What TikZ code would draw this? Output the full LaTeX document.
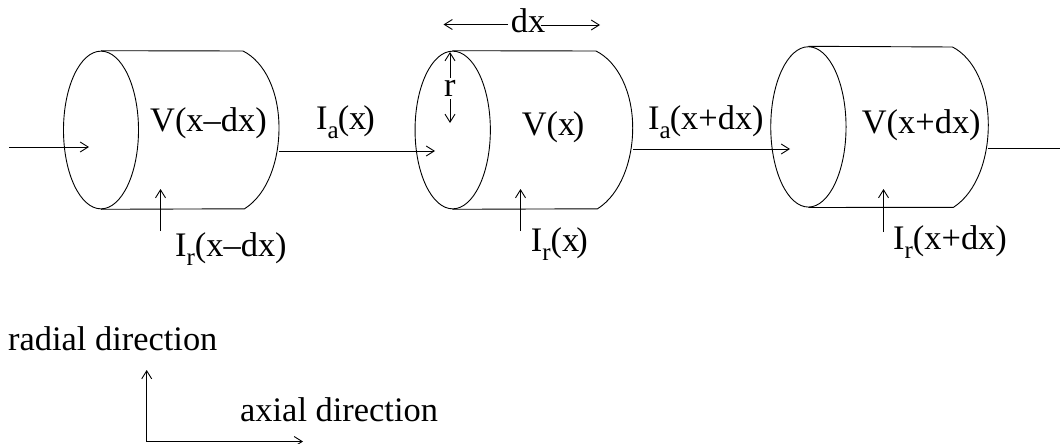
\documentclass[tikz,border=0pt]{standalone}
\usepackage{fontspec}
\setmainfont{Liberation Serif}
\usetikzlibrary{arrows.meta,shapes.geometric}
\newcommand{\subsc}[1]{\raisebox{-9pt}{\fontsize{25}{25}\selectfont #1}}
\tikzset{
  wire/.style={line width=0.9pt,black},
  arr/.style={wire,-{Straight Barb[length=8pt,width=10pt,line width=0.9pt]}},
  face/.style={ellipse,draw,line width=0.9pt,inner sep=0pt,minimum width=#1},
  lab/.style={anchor=base west,inner sep=0pt,font=\fontsize{34.4}{40}\selectfont},
}
\begin{document}
\begin{tikzpicture}[x=1pt,y=-1pt]
\useasboundingbox (0,0) rectangle (1060,444);
% faces
\node[face=75pt,minimum height=157.7pt] (f1) at (101,130) {};
\node[face=75.3pt,minimum height=157.7pt] (f2) at (452.7,130) {};
\node[face=75.3pt,minimum height=160.3pt] (f3) at (808.4,126.9) {};
% cylinder 1
\coordinate (t1) at (243,51);
\coordinate (m1) at (279,128);
\coordinate (b1) at (244.5,208.8);
\draw[wire] (f1.north) -- (t1) .. controls (265,62) and (279,92) .. (m1) .. controls (279,160) and (268,194) .. (b1) -- (f1.south);
% cylinder 2
\coordinate (t2) at (596,51);
\coordinate (m2) at (632.7,128);
\coordinate (b2) at (597.5,208.8);
\draw[wire] (f2.north) -- (t2) .. controls (618,62) and (632.7,92) .. (m2) .. controls (632.7,160) and (621,194) .. (b2) -- (f2.south);
% cylinder 3
\coordinate (t3) at (952.5,47);
\coordinate (m3) at (988.3,125);
\coordinate (b3) at (953.5,207.3);
\draw[wire] (f3.north) -- (t3) .. controls (974,58) and (988.3,88) .. (m3) .. controls (988.3,158) and (977,192) .. (b3) -- (f3.south);
% axial connectors
\coordinate (in0) at (9,147);
\coordinate (in1) at (89,147);
\draw[arr] (in0) -- (in1);
\coordinate (a1s) at (279,151);
\coordinate (a1e) at (435,151);
\draw[arr] (a1s) -- (a1e);
\coordinate (a2s) at (633,149);
\coordinate (a2e) at (790,149);
\draw[arr] (a2s) -- (a2e);
\coordinate (o0) at (988,148.5);
\coordinate (o1) at (1060,148.5);
\draw[wire] (o0) -- (o1);
% radial current arrows
\coordinate (r1s) at (160.5,231); \coordinate (r1e) at (160.5,189);
\draw[arr] (r1s) -- (r1e);
\coordinate (r2s) at (520.5,231); \coordinate (r2e) at (520.5,189);
\draw[arr] (r2s) -- (r2e);
\coordinate (r3s) at (883.5,232); \coordinate (r3e) at (883.5,189);
\draw[arr] (r3s) -- (r3e);
% labels
\node[lab] (v1) at (150,131) {V(x–dx)};
\node[lab] (ia1) at (316,129) {I\subsc{a}\kern-1pt(x\kern-3pt)};
\node[lab] (ir1) at (175,256) {I\subsc{r}(x–dx)};
\node[lab] (dx) at (510.7,32.7) {dx};
\node[lab] (r) at (444,96) {r};
\node[lab] (v2) at (521.7,135) {V(x\kern-2.5pt)};
\node[lab] (ia2) at (648,129) {I\subsc{a}\kern-1pt(x+dx)};
\node[lab] (ir2) at (530.7,251.7) {I\subsc{r}(x\kern-3pt)};
\node[lab] (v3) at (861.7,133) {V(x+dx)};
\node[lab] (ir3) at (893,249) {I\subsc{r}(x+dx)};
\node[lab] (rad) at (8,350) {radial direction};
\node[lab] (ax) at (240,421) {axial direction};
% dx and r dimension arrows
\coordinate (dxl) at (443.5,24.5); \coordinate (dxr) at (600,25);
\coordinate (ru) at (450,52); \coordinate (rd) at (450,123);
\draw[arr,shorten <=2.7pt] (dx.west |- dxl) -- (dxl);
\draw[arr,shorten <=-5pt] (dx.east |- dxr) -- (dxr);
\draw[arr,shorten <=2pt] (r.north -| ru) -- (ru);
\draw[arr,shorten <=3pt] (r.south -| rd) -- (rd);
% axes
\coordinate (orig) at (146.7,441.5);
\coordinate (up) at (146.7,370);
\coordinate (right) at (303,441.5);
\draw[arr] (orig) -- (up);
\draw[arr] (orig) -- (right);
\end{tikzpicture}
\end{document}
